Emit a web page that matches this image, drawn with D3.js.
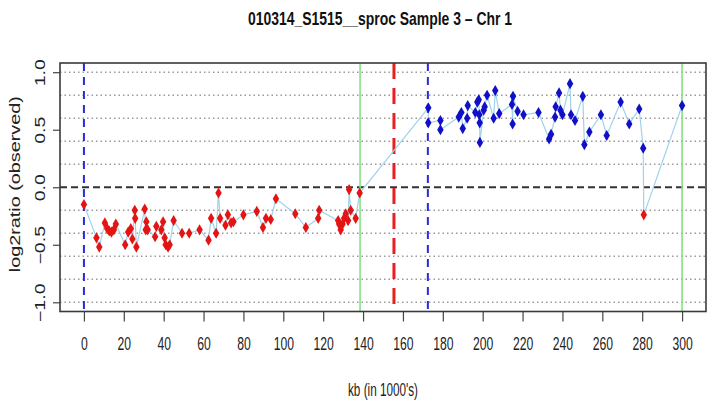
<!DOCTYPE html>
<html>
<head>
<meta charset="utf-8">
<script src="https://cdn.jsdelivr.net/npm/d3@7"></script>
<style>
  body { margin: 0; background: #fff; }
  svg { display: block; }
  text { font-family: "Liberation Sans", Arial, sans-serif; }
</style>
</head>
<body>
<div id="chart"></div>
<script>
'use strict'

// probe positions (kb) and observed log2 ratios, in plotting order
var kb = [
  0, 6.3, 7.7, 10.5, 11.7, 12.7, 13.8, 15, 16, 20.7, 22.2, 23.5, 24.3, 25.5, 25.7, 26.3,
  30.5, 31, 31.3, 32, 35.7, 36.3, 38.8, 39.7, 40.5, 41, 42.2, 43, 45, 49.2, 52.8, 58,
  62.5, 63.8, 66.3, 67.5, 68.3, 71, 72.2, 73.8, 75, 80, 86.7, 89.8, 91.3, 93.7, 96.3,
  106, 111.3, 117.5, 118, 127.5, 128, 128.8, 129.7, 130.5, 131.3, 132.5, 133, 133.8,
  136.3, 138.3,
  172.7, 172.7, 178.8, 178.8, 188, 189.3, 190, 192.2, 192.5, 196.3, 197.3, 198, 198.3,
  198.5, 198.6, 200.5, 201, 202.2, 205.5, 206.3, 208.3, 214.7, 215, 215.2, 217.5, 220.5,
  228, 233.3, 234.3, 236.3, 236.6, 238.3, 239, 240, 243.8, 244.3, 246.3, 250.2, 251,
  253.5, 259.3, 262.2, 269.2, 273.5, 278.5, 280.5, 280.8, 300
]
var log2ratio = [
  -0.15, -0.44, -0.52, -0.31, -0.36, -0.38, -0.39, -0.37, -0.32, -0.50, -0.39, -0.36, -0.45, -0.20, -0.27, -0.52,
  -0.19, -0.37, -0.30, -0.37, -0.43, -0.34, -0.37, -0.30, -0.44, -0.50, -0.52, -0.50, -0.29, -0.40, -0.40, -0.37,
  -0.46, -0.27, -0.40, -0.05, -0.27, -0.33, -0.24, -0.31, -0.30, -0.24, -0.21, -0.35, -0.27, -0.28, -0.10,
  -0.23, -0.35, -0.27, -0.20, -0.29, -0.32, -0.37, -0.32, -0.27, -0.23, -0.29, -0.02, -0.20,
  -0.27, -0.05,
  0.69, 0.56, 0.58, 0.50, 0.61, 0.65, 0.51, 0.60, 0.71, 0.65, 0.74, 0.76, 0.63,
  0.56, 0.39, 0.67, 0.70, 0.80, 0.60, 0.84, 0.64, 0.72, 0.55, 0.79, 0.66, 0.63,
  0.65, 0.42, 0.46, 0.61, 0.70, 0.82, 0.67, 0.63, 0.90, 0.63, 0.58, 0.79, 0.37,
  0.48, 0.63, 0.45, 0.74, 0.55, 0.68, 0.34, -0.24, 0.71
]
// call per probe: 'loss' drawn red, 'gain' drawn blue
var calls = kb.map(function (d, i) { return log2ratio[i] < 0 ? 'loss' : 'gain' })

var xTicks = d3.range(0, 301, 20)
var yTicks = [-1, -0.5, 0, 0.5, 1]
var gridLevels = [-1, -0.8, -0.6, -0.4, -0.2, 0.2, 0.4, 0.6, 0.8, 1]

var bluePositions = [0, 172.5]     // dashed blue markers
var greenPositions = [138.5, 300]  // segment ends
var redPositions = [155.5]         // centromere

var title = '010314_S1515__sproc  Sample  3  \u2013 Chr  1'

var width = 713
var height = 403
var box = { left: 60, right: 706, top: 63, bottom: 311.5 }

var x = d3.scaleLinear().domain([-12, 312]).range([box.left, box.right])
var y = d3.scaleLinear().domain([-1.08, 1.08]).range([box.bottom, box.top])

var svg = d3.select('#chart').append('svg')
  .attr('width', width)
  .attr('height', height)

// horizontal grid
svg.selectAll('line.grid')
  .data(gridLevels)
  .enter().append('line')
  .attr('class', 'grid')
  .attr('x1', box.left)
  .attr('x2', box.right)
  .attr('y1', function (d) { return y(d) })
  .attr('y2', function (d) { return y(d) })
  .style('stroke', '#9a9a9a')
  .style('stroke-width', 1.6)
  .style('stroke-dasharray', '1.5,3')

// zero line
svg.append('line')
  .attr('x1', box.left)
  .attr('x2', box.right)
  .attr('y1', y(0))
  .attr('y2', y(0))
  .style('stroke', '#333')
  .style('stroke-width', 2)
  .style('stroke-dasharray', '7,4')

function vlines (data, color, w, dash) {
  var sel = svg.append('g').selectAll('line')
    .data(data)
    .enter().append('line')
    .attr('x1', function (d) { return x(d) })
    .attr('x2', function (d) { return x(d) })
    .attr('y1', box.top)
    .attr('y2', box.bottom)
    .style('stroke', color)
    .style('stroke-width', w)
  if (dash) sel.style('stroke-dasharray', dash)
}

vlines(greenPositions, '#86e086', 1.6)
vlines(bluePositions, '#2a2ad8', 2, '8,6')
vlines(redPositions, '#e82020', 3, '16,9')

// connecting line
var line = d3.line()
  .x(function (d) { return x(kb[d]) })
  .y(function (d) { return y(log2ratio[d]) })

svg.append('path')
  .datum(d3.range(kb.length))
  .attr('d', line)
  .style('fill', 'none')
  .style('stroke', '#9fd3ea')
  .style('stroke-width', 1.2)

// points
var diamond = d3.symbol().type(d3.symbolDiamond).size(36)
svg.selectAll('path.pt')
  .data(d3.range(kb.length))
  .enter().append('path')
  .attr('class', 'pt')
  .attr('d', diamond)
  .attr('transform', function (d) { return 'translate(' + x(kb[d]) + ',' + y(log2ratio[d]) + ')' })
  .style('fill', function (d) { return calls[d] === 'loss' ? '#e41414' : '#1010c8' })

// box
svg.append('rect')
  .attr('x', box.left)
  .attr('y', box.top)
  .attr('width', box.right - box.left)
  .attr('height', box.bottom - box.top)
  .style('fill', 'none')
  .style('stroke', '#3a3a3a')
  .style('stroke-width', 1.6)

// x axis (labels condensed like the stretched original)
var xAxis = svg.append('g')
  .attr('transform', 'translate(0,' + box.bottom + ')')
  .call(d3.axisBottom(x).tickValues(xTicks).tickSize(10).tickPadding(15).tickSizeOuter(0))
xAxis.select('.domain').remove()
xAxis.selectAll('line').style('stroke', '#444').style('stroke-width', 1.2)
xAxis.selectAll('text')
  .attr('transform', 'scale(0.64,1)')
  .style('font-size', '19px')
  .style('fill', '#222')

// y axis (labels parallel to axis)
var yAxis = svg.append('g')
  .attr('transform', 'translate(' + box.left + ',0)')
  .call(d3.axisLeft(y).tickValues(yTicks).tickSize(7).tickFormat(d3.format('.1f')))
yAxis.select('.domain').remove()
yAxis.selectAll('line').style('stroke', '#444').style('stroke-width', 1.2)
yAxis.selectAll('text')
  .attr('x', null)
  .attr('dy', null)
  .attr('transform', 'translate(-15,0) rotate(-90) scale(1.4,1)')
  .attr('text-anchor', 'middle')
  .style('font-size', '14px')
  .style('fill', '#222')

// titles
svg.append('text')
  .attr('x', 380)
  .attr('y', 25)
  .attr('text-anchor', 'middle')
  .attr('textLength', 264)
  .attr('lengthAdjust', 'spacingAndGlyphs')
  .style('font-size', '19px')
  .style('font-weight', 'bold')
  .style('fill', '#111')
  .text(title)

svg.append('text')
  .attr('x', x(150))
  .attr('y', 396)
  .attr('text-anchor', 'middle')
  .attr('textLength', 70)
  .attr('lengthAdjust', 'spacingAndGlyphs')
  .style('font-size', '18px')
  .style('fill', '#222')
  .text("kb (in 1000's)")

svg.append('text')
  .attr('transform', 'translate(20,' + (y(0) - 3) + ') rotate(-90)')
  .attr('text-anchor', 'middle')
  .attr('textLength', 176)
  .attr('lengthAdjust', 'spacingAndGlyphs')
  .style('font-size', '14px')
  .style('fill', '#222')
  .text('log2ratio (observed)')
</script>
</body>
</html>
